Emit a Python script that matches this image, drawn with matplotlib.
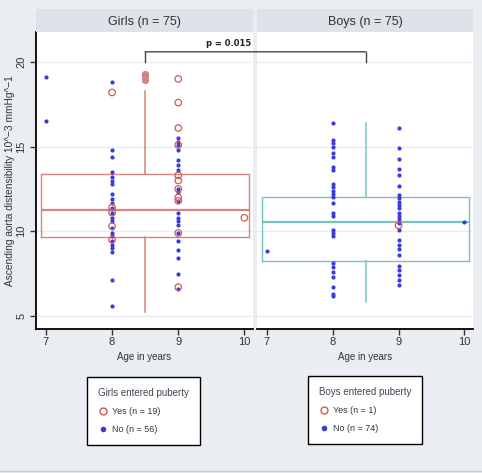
import matplotlib
matplotlib.use('Agg')
import matplotlib.pyplot as plt
from matplotlib.lines import Line2D
from matplotlib.patches import ConnectionPatch

# ---- data ----
ages = [7, 8, 9, 10]
y_ticks = [5, 10, 15, 20]

# Girls, distensibility by age (No = not entered puberty, Yes = entered)
girls_no_7 = [19.1, 16.5]
girls_no_8 = [18.8, 14.8, 14.4, 13.5, 13.2, 13.0, 12.8, 12.2, 11.9, 11.7, 11.4, 11.1,
              10.8, 10.6, 10.2, 9.9, 9.7, 9.4, 9.2, 9.0, 8.8, 7.1, 5.6]
girls_no_9 = [15.5, 15.3, 15.1, 14.8, 14.2, 13.9, 13.6, 12.5, 12.3, 11.8, 11.1, 10.8,
              10.6, 10.4, 9.9, 9.4, 8.9, 8.4, 7.5, 6.6]
girls_yes_8 = [18.2, 11.4, 11.1, 10.3, 9.5]
girls_yes_9 = [19.0, 17.6, 16.1, 15.1, 13.3, 13.0, 12.5, 12.0, 11.8, 9.9, 6.7]
girls_yes_10 = [10.8]

# Boys
boys_no_7 = [8.85]
boys_no_8 = [16.4, 15.4, 15.2, 15.0, 14.6, 14.4, 13.8, 13.6, 12.8, 12.6, 12.4, 12.2,
             12.0, 11.7, 11.1, 10.9, 10.1, 9.9, 9.7, 8.1, 7.9, 7.6, 7.3, 6.7, 6.3, 6.2]
boys_no_9 = [16.1, 14.9, 14.25, 13.7, 13.3, 12.7, 12.15, 11.95, 11.75, 11.55, 11.35,
             11.1, 10.9, 10.7, 10.5, 10.1, 9.5, 9.2, 8.95, 8.6, 7.95, 7.7, 7.4, 7.1, 6.85]
boys_no_10 = [10.55]
boys_yes_9 = [10.35]

# box summaries (Stata style, one wide box per panel)
girls_box = dict(med=11.26, q1=9.68, q3=13.38, whislo=5.25, whishi=18.29,
                 fliers=[19.3, 19.15, 18.95])
boys_box = dict(med=10.57, q1=8.23, q3=12.05, whislo=5.8, whishi=16.42, fliers=[])

# ---- colours ----
BG = '#eaeef2'
HEADER = '#dde3e9'
GRID = '#e8edf3'
BLUE = '#3a3ae0'
RED = '#d45a50'
GIRL_BOX = '#d4857d'
BOY_BOX = '#78c0c4'

plt.rcParams['font.family'] = ['Liberation Sans', 'DejaVu Sans']

W, H = 482, 473
fig = plt.figure(figsize=(W / 100, H / 100), dpi=100, facecolor=BG)
ax1 = fig.add_axes([36 / W, 1 - 329 / H, 217 / W, 297 / H])
ax2 = fig.add_axes([257 / W, 1 - 329 / H, 216 / W, 297 / H])


def header(x0, x1, text):
    hax = fig.add_axes([x0 / W, 1 - 32 / H, (x1 - x0) / W, 23 / H])
    hax.set_facecolor(HEADER)
    hax.set_xticks([])
    hax.set_yticks([])
    for s in hax.spines.values():
        s.set_visible(False)
    hax.text(0.5, 0.45, text, ha='center', va='center', fontsize=9, color='#333333',
             transform=hax.transAxes)


header(36, 253, 'Girls (n = 75)')
header(257, 473, 'Boys (n = 75)')


def draw_panel(ax, box, box_color, no_groups, yes_groups):
    ax.bxp([box], positions=[8.5], widths=3.14, showcaps=False,
           boxprops=dict(color=box_color, lw=1),
           whiskerprops=dict(color=box_color, lw=1.1),
           medianprops=dict(color=box_color, lw=1.6),
           flierprops=dict(marker='o', markerfacecolor=box_color,
                           markeredgecolor=box_color, markersize=4.2),
           zorder=2)
    for age, vals in no_groups:
        ax.scatter([age] * len(vals), vals, s=9, color=BLUE, zorder=3, lw=0)
    for age, vals in yes_groups:
        ax.scatter([age] * len(vals), vals, s=22, facecolor='none', edgecolor=RED,
                   lw=0.9, zorder=4)
    ax.set_xlim(6.85, 10.13)
    ax.set_ylim(4.23, 21.77)
    ax.set_xticks(ages)
    ax.set_xticklabels([str(a) for a in ages])
    ax.set_yticks(y_ticks)
    ax.grid(axis='y', color=GRID, lw=1)
    ax.set_axisbelow(True)
    ax.spines['top'].set_visible(False)
    ax.spines['right'].set_visible(False)
    ax.spines['bottom'].set_linewidth(1.3)
    ax.tick_params(axis='x', length=4, width=1, labelsize=8, pad=2, colors='#333333')
    ax.set_xlabel('Age in years', fontsize=7, color='#333333', labelpad=3)


draw_panel(ax1, girls_box, GIRL_BOX,
           [(7, girls_no_7), (8, girls_no_8), (9, girls_no_9)],
           [(8, girls_yes_8), (9, girls_yes_9), (10, girls_yes_10)])
draw_panel(ax2, boys_box, BOY_BOX,
           [(7, boys_no_7), (8, boys_no_8), (9, boys_no_9), (10, boys_no_10)],
           [(9, boys_yes_9)])

ax1.spines['left'].set_linewidth(1.3)
ax1.tick_params(axis='y', length=4, width=1, labelsize=8, pad=3, colors='#333333')
ax1.set_yticklabels([str(t) for t in y_ticks], rotation=90, va='center')
ax1.set_ylabel('Ascending aorta distensibility 10^\u22123 mmHg^\u22121', fontsize=7.3,
               color='#333333', labelpad=1)

ax2.spines['left'].set_visible(False)
ax2.tick_params(axis='y', length=0, labelleft=False)

# p-value bracket between the two boxes
ax1.plot([8.5, 8.5], [20.0, 20.6], color='#444444', lw=1, clip_on=False)
ax2.plot([8.5, 8.5], [20.0, 20.6], color='#444444', lw=1, clip_on=False)
fig.add_artist(ConnectionPatch((8.5, 20.6), (8.5, 20.6), 'data', 'data',
                               axesA=ax1, axesB=ax2, color='#444444', lw=1))
ax1.text(9.76, 21.12, 'p = 0.015', ha='center', va='center', fontsize=6,
         fontweight='bold', family='DejaVu Sans', color='#222222', clip_on=False)

# legends
yes_h = Line2D([], [], ls='none', marker='o', mfc='none', mec=RED, ms=5, mew=1)
no_h = Line2D([], [], ls='none', marker='o', mfc=BLUE, mec=BLUE, ms=3)


def add_legend(ax, x, y, title, labels):
    leg = ax.legend([yes_h, no_h], labels, title=title, loc='upper left',
                    bbox_to_anchor=(x / W, 1 - y / H), bbox_transform=fig.transFigure,
                    frameon=True, fancybox=False, edgecolor='black', facecolor='white',
                    framealpha=1, fontsize=6.5, title_fontsize=7, alignment='left',
                    borderpad=1.2, labelspacing=1.0, handlelength=1.2,
                    handletextpad=0.4, borderaxespad=0)
    leg.get_frame().set_linewidth(1)
    leg.get_title().set_color('#444455')
    for t in leg.get_texts():
        t.set_color('#333333')


add_legend(ax1, 87, 377, 'Girls entered puberty', ['Yes (n = 19)', 'No (n = 56)'])
add_legend(ax2, 308, 376, 'Boys entered puberty', ['Yes (n = 1)', 'No (n = 74)'])

fig.add_artist(Line2D([0, 1], [2 / H, 2 / H], color='#c8ccd0', lw=1))

fig.savefig('out.png', dpi=100, facecolor=BG)
